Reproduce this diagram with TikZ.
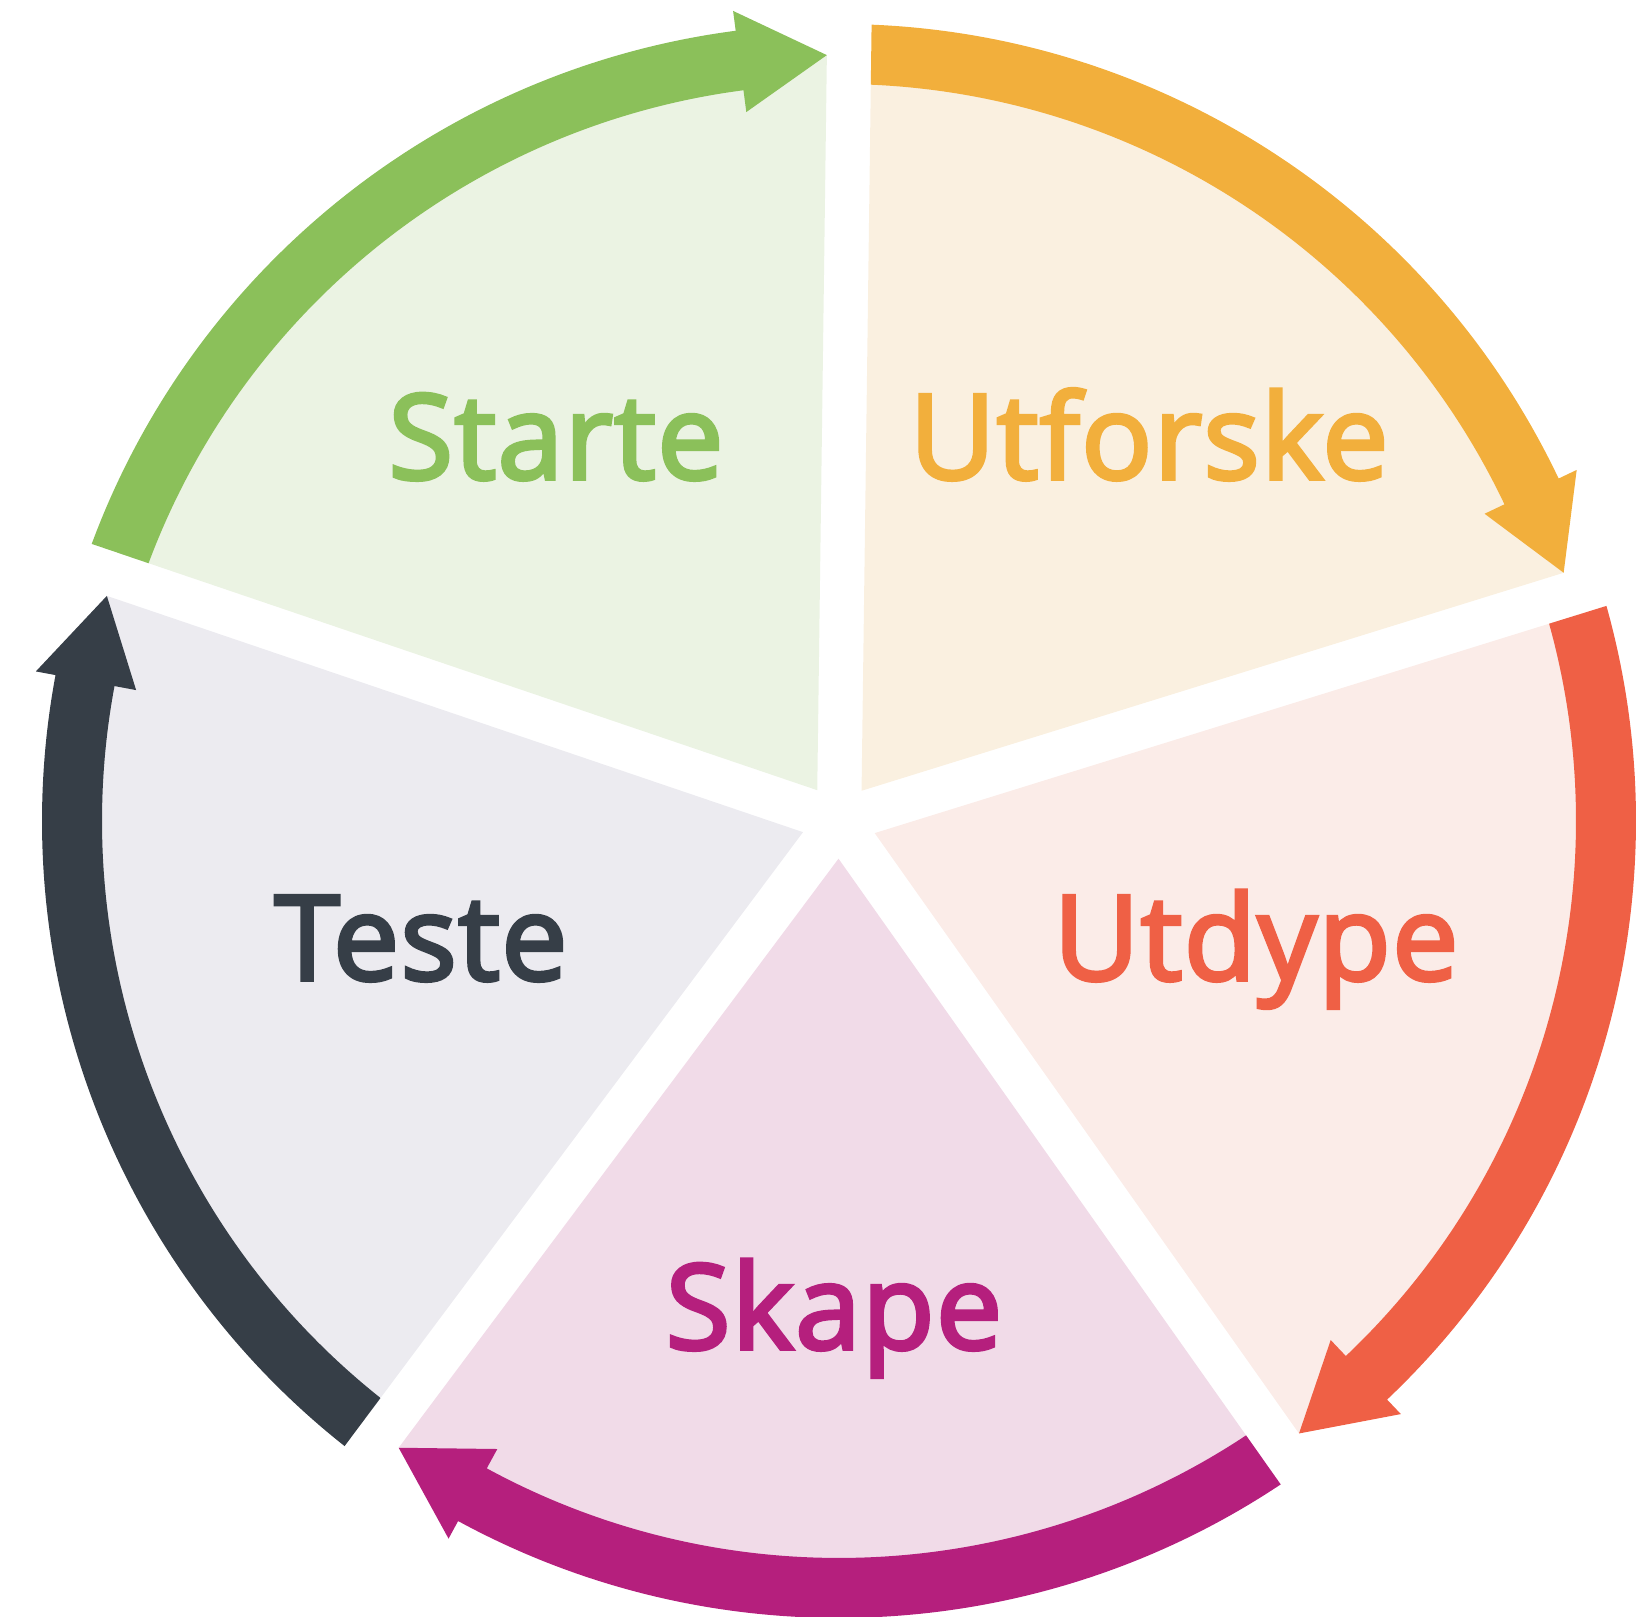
\documentclass[tikz,border=0pt]{standalone}
\usepackage{fontspec}
\setmainfont{Open Sans}
\newfontfamily\lblfont{Open Sans}[FakeBold=3.2, LetterSpace=1.2]
\usetikzlibrary{calc}
\definecolor{grA}{HTML}{8BC05A}\definecolor{grF}{HTML}{EBF3E3}
\definecolor{orA}{HTML}{F2AF3C}\definecolor{orF}{HTML}{FAF0E0}
\definecolor{rdA}{HTML}{EF6045}\definecolor{rdF}{HTML}{FBECE8}
\definecolor{mgA}{HTML}{B51F7D}\definecolor{mgF}{HTML}{F1DBE8}
\definecolor{dkA}{HTML}{363E47}\definecolor{dkF}{HTML}{ECEBF0}
\tikzset{
  lbl/.style={inner sep=0pt, anchor=base, font=\lblfont\fontsize{118}{118}\selectfont},
}
\newcommand\cycwedge[4]{%
  \begin{scope}
    \pgfmathsetmacro\am{#1+36}
    \pgfmathsetmacro\atwo{#1+72}
    \pgfmathsetmacro\abase{#1+8.2}
    \pgfmathsetmacro\atip{#1+1.66}
    \pgfmathsetmacro\atail{#1+77}
    \coordinate (P#4) at ($(C)+(\am:37.7)$);
    \clip (P#4) -- ($(P#4)+(#1:1500)$) -- ($(P#4)+(\atwo:1500)$) -- cycle;
    \fill[#2] (C) circle[radius=766];
    \fill[#3] ($(C)+(\atail:797)$) arc[start angle=\atail, end angle=\abase, radius=797]
      -- ($(C)+(\abase:817)$) -- ($(C)+(\atip:766)$) -- ($(C)+(\abase:715)$)
      -- ($(C)+(\abase:737)$) arc[start angle=\abase, end angle=\atail, radius=737] -- cycle;
  \end{scope}}
\begin{document}
\begin{tikzpicture}[x=1pt,y=1pt]
  \useasboundingbox (0,0) rectangle (1640,1616);
  \coordinate (C) at (839,795);
  \cycwedge{17.25}{orF}{orA}{o}
  \cycwedge{89.25}{grF}{grA}{g}
  \cycwedge{161.25}{dkF}{dkA}{d}
  \cycwedge{233.25}{mgF}{mgA}{m}
  \cycwedge{305.25}{rdF}{rdA}{r}
  \node[lbl, text=grA] (starte) at (556,1137) {Starte};
  \node[lbl, text=orA] (utforske) at (1149,1137) {Utforske};
  \node[lbl, text=dkA] (teste) at (421,636) {Teste};
  \node[lbl, text=rdA] (utdype) at (1256,636) {Utdype};
  \node[lbl, text=mgA] (skape) at (834,267) {Skape};
\end{tikzpicture}
\end{document}
